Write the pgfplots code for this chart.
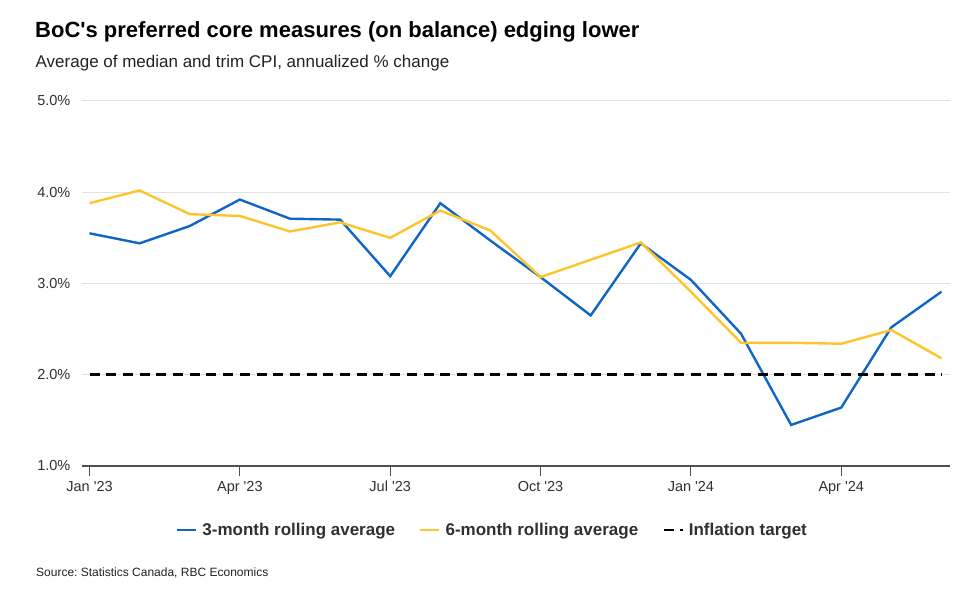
\documentclass[border=0pt]{standalone}
\usepackage{pgfplots}
\pgfplotsset{compat=1.18}
\usepackage{fontspec}
\setmainfont{Liberation Sans}
\frenchspacing

\definecolor{rbcblue}{HTML}{0F66C4}
\definecolor{rbcyellow}{HTML}{FDC52B}
\definecolor{gridgray}{HTML}{E2E2E2}
\definecolor{axisgray}{HTML}{505050}
\definecolor{txt}{HTML}{303030}

\newcommand{\q}{\textquotesingle}

\begin{document}
\begin{tikzpicture}[x=1pt,y=1pt]
\path[use as bounding box] (0,0) rectangle (980,604);

\node[anchor=base west, inner sep=0pt, text=black]
  at (35,566) {\fontsize{22}{25}\selectfont\bfseries BoC\q s preferred core measures (on balance) edging lower};
\node[anchor=base west, inner sep=0pt, text=txt!70!black]
  at (35.5,536) {\fontsize{17}{20}\selectfont Average of median and trim CPI, annualized \% change};
\node[anchor=base west, inner sep=0pt, text=txt!70!black]
  at (36,27.3) {\fontsize{12}{14}\selectfont Source: Statistics Canada, RBC Economics};

\begin{axis}[
    at={(81.5pt,138pt)}, anchor=south west,
    scale only axis,
    width=868.5pt, height=365pt,
    xmin=-0.16, xmax=17.17,
    ymin=1, ymax=5,
    axis x line*=bottom,
    axis y line*=left,
    y axis line style={draw=none},
    x axis line style={axisgray, line width=1.3pt},
    xtick={0,3,6,9,12,15},
    xticklabels={Jan \q23, Apr \q23, Jul \q23, Oct \q23, Jan \q24, Apr \q24},
    ytick={1,2,3,4,5},
    yticklabels={1.0\%,2.0\%,3.0\%,4.0\%,5.0\%},
    tick align=outside,
    major tick length=10pt,
    xtick style={axisgray, line width=1.1pt},
    ytick style={draw=none},
    xticklabel style={font=\fontsize{14.5}{16}\selectfont, text=txt, inner sep=0pt, yshift=-5pt},
    yticklabel style={font=\fontsize{14.5}{16}\selectfont, text=txt, inner sep=0pt, xshift=-1pt},
    ymajorgrids,
    grid style={gridgray, line width=1pt},
    clip=false,
    legend columns=3,
    legend style={
        at={(0.4732,-0.1753)}, anchor=center,
        draw=none, fill=none,
        font=\fontsize{17}{20}\selectfont\bfseries,
        text=txt,
        cells={anchor=west},
        /tikz/every odd column/.style={column sep=3pt},
        /tikz/every even column/.style={column sep=22pt},
    },
    legend image code/.code={\draw[#1] (0pt,0pt) -- (19pt,0pt);},
]
\addplot[rbcblue, line width=2.4pt, line join=miter] coordinates {
    (0,3.55) (1,3.44) (2,3.63) (3,3.92) (4,3.71) (5,3.70)
    (6,3.08) (7,3.88) (8,3.47) (9,3.07) (10,2.65) (11,3.44)
    (12,3.04) (13,2.45) (14,1.45) (15,1.64) (16,2.52) (17,2.91)
};
\addlegendentry{3-month rolling average}
\addplot[rbcyellow, line width=2.4pt, line join=miter] coordinates {
    (0,3.88) (1,4.02) (2,3.76) (3,3.74) (4,3.57) (5,3.67)
    (6,3.50) (7,3.80) (8,3.58) (9,3.07) (10,3.26) (11,3.45)
    (12,2.91) (13,2.35) (14,2.35) (15,2.34) (16,2.49) (17,2.18)
};
\addlegendentry{6-month rolling average}
\addplot[black, line width=2.6pt, dash pattern=on 10pt off 6.7pt] coordinates {
    (0,2) (17,2)
};
\addlegendentry{Inflation target}
\end{axis}
\end{tikzpicture}
\end{document}
